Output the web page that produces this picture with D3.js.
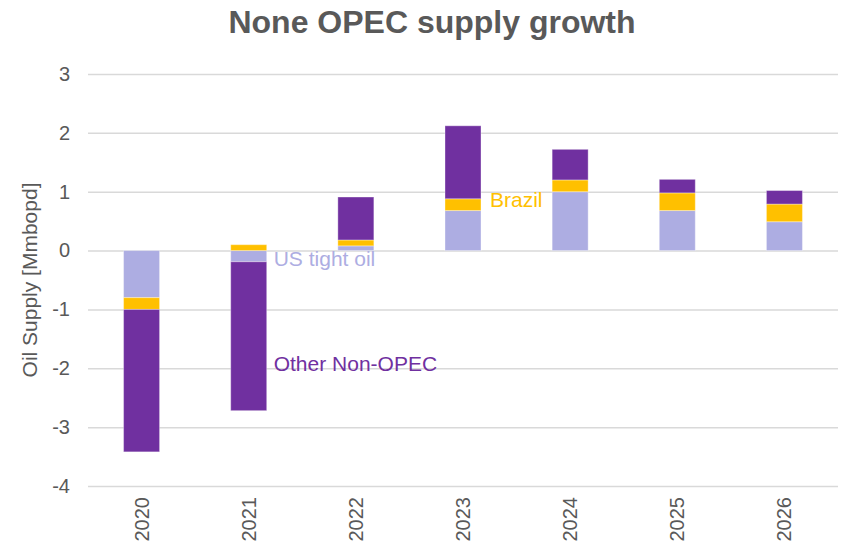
<!DOCTYPE html>
<html>
<head>
<meta charset="utf-8">
<script src="https://cdn.jsdelivr.net/npm/d3@7"></script>
<style>
  html, body { margin: 0; padding: 0; background: #fff; }
  svg { display: block; font-family: "Liberation Sans", Arial, sans-serif; }
</style>
</head>
<body>
<div id="chart"></div>
<script>
const years = ["2020", "2021", "2022", "2023", "2024", "2025", "2026"];
const usTightOil = [-0.80, -0.19, 0.08, 0.68, 1.00, 0.68, 0.49];
const brazil = [-0.20, 0.10, 0.10, 0.20, 0.20, 0.30, 0.30];
const otherNonOpec = [-2.42, -2.53, 0.73, 1.24, 0.52, 0.23, 0.23];
const seriesNames = ["US tight oil", "Brazil", "Other Non-OPEC"];
const yTicks = [3, 2, 1, 0, -1, -2, -3, -4];

const colors = { "US tight oil": "#ADADE2", "Brazil": "#FFC000", "Other Non-OPEC": "#7030A0" };

const W = 853, H = 548;
const svg = d3.select("#chart").append("svg").attr("width", W).attr("height", H);

const x = d3.scaleBand().domain(years).range([88, 838]).paddingInner(0.664).paddingOuter(0.332);
const y = d3.scaleLinear().domain([-4, 3]).range([486, 74]);

const table = years.map((yr, i) => ({
  year: yr,
  "US tight oil": usTightOil[i],
  "Brazil": brazil[i],
  "Other Non-OPEC": otherNonOpec[i]
}));

const stack = d3.stack().keys(seriesNames).offset(d3.stackOffsetDiverging);
const stacked = stack(table);

// gridlines
const gridAxis = d3.axisLeft(y).tickValues(yTicks).tickSize(-(838 - 88)).tickFormat("");
const g = svg.append("g").attr("transform", "translate(88,0)").call(gridAxis);
g.select(".domain").remove();
g.selectAll(".tick line").attr("stroke", "#D9D9D9").attr("stroke-width", 1.5);

// tick labels
const yAxis = d3.axisLeft(y).tickValues(yTicks).tickSize(0).tickPadding(0).tickFormat(d => String(d));
const ya = svg.append("g").attr("transform", "translate(70,0)").call(yAxis);
ya.select(".domain").remove();
ya.selectAll("text").attr("fill", "#595959").style("font-size", "20px")
  .style("font-family", "'Liberation Sans', Arial, sans-serif");

// bars
svg.append("g").selectAll("g").data(stacked).join("g")
  .attr("fill", d => colors[d.key])
  .selectAll("rect").data(d => d).join("rect")
  .attr("x", d => x(d.data.year))
  .attr("width", x.bandwidth())
  .attr("y", d => y(Math.max(d[0], d[1])))
  .attr("height", d => Math.abs(y(d[0]) - y(d[1])))
  .attr("stroke", "#ffffff").attr("stroke-opacity", 0.35).attr("stroke-width", 1);

// x labels
const xAxis = d3.axisBottom(x).tickSize(0).tickPadding(0);
const xa = svg.append("g").attr("transform", "translate(0,497)").call(xAxis);
xa.select(".domain").remove();
xa.selectAll("text")
  .attr("fill", "#595959").style("font-size", "20px")
  .style("font-family", "'Liberation Sans', Arial, sans-serif")
  .attr("transform", "rotate(-90)")
  .attr("text-anchor", "end")
  .attr("x", 0).attr("y", 0).attr("dy", "0.35em");

// title
svg.append("text").attr("x", 432).attr("y", 33).attr("text-anchor", "middle")
  .attr("fill", "#595959").style("font-size", "32px").style("font-weight", "bold")
  .text("None OPEC supply growth");

// y axis title
svg.append("text").attr("transform", `translate(37,${(y(3) + y(-4)) / 2}) rotate(-90)`)
  .attr("text-anchor", "middle").attr("fill", "#595959").style("font-size", "21px")
  .text("Oil Supply [Mmbopd]");

// annotations
const bw = x.bandwidth();
svg.append("text").attr("x", x("2021") + bw + 7).attr("y", y(-0.27))
  .attr("fill", colors["US tight oil"]).style("font-size", "21px").text("US tight oil");
svg.append("text").attr("x", x("2021") + bw + 7).attr("y", y(-2.05))
  .attr("fill", colors["Other Non-OPEC"]).style("font-size", "21px").text("Other Non-OPEC");
svg.append("text").attr("x", x("2023") + bw + 9).attr("y", y(0.74))
  .attr("fill", colors["Brazil"]).style("font-size", "21px").text("Brazil");
</script>
</body>
</html>
